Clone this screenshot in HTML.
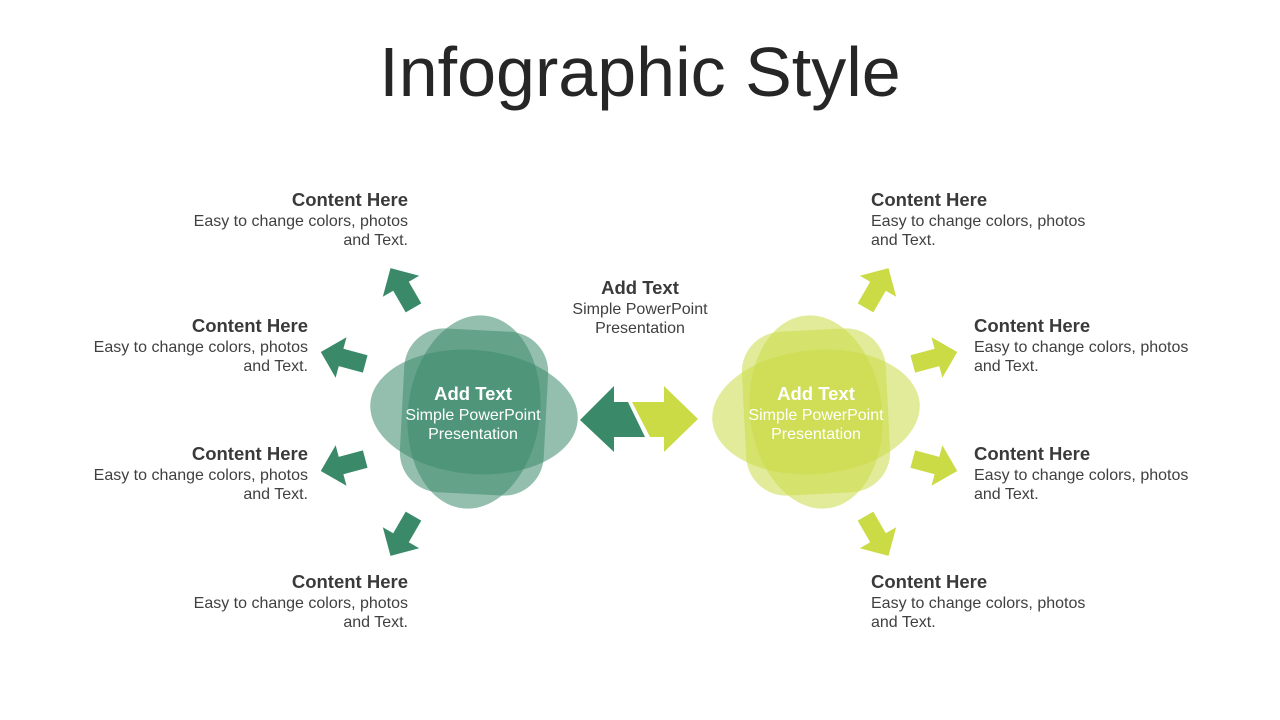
<!DOCTYPE html>
<html><head><meta charset="utf-8"><style>
body{margin:0;width:1280px;height:720px;background:#fff;position:relative;overflow:hidden;font-family:"Liberation Sans",sans-serif;}
.t{position:absolute;color:#404040;font-size:16px;line-height:19px;}
.t b{display:block;font-size:18.5px;line-height:24px;color:#3a3a3a;}
.r{text-align:right}
.c{text-align:center}
</style></head><body>
<div style="position:absolute;top:30px;left:0;width:1280px;text-align:center;font-size:70px;color:#262626;line-height:84px;">Infographic Style</div>
<svg width="1280" height="720" style="position:absolute;left:0;top:0">
<defs>
<polygon id="ar" points="-23,-9 2,-9 2,-21 23,0 2,21 2,9 -23,9"/>
<g id="fl">
<ellipse cx="0" cy="0" rx="104" ry="62" transform="rotate(5)"/>
<ellipse cx="0" cy="0" rx="97" ry="66" transform="rotate(97)"/>
<rect x="-72" y="-82" width="144" height="164" rx="40" ry="40" transform="rotate(3)"/>
</g>
</defs>
<g fill="#3d8a6c" fill-opacity="0.55" transform="translate(474,412)"><use href="#fl"/></g>
<g fill="#cbdb45" fill-opacity="0.55" transform="translate(816,412) scale(-1,1)"><use href="#fl"/></g>
<g fill="#3a8a6a">
<use href="#ar" transform="translate(402,288) rotate(-120)"/>
<use href="#ar" transform="translate(343,358) rotate(195)"/>
<use href="#ar" transform="translate(343,465) rotate(165)"/>
<use href="#ar" transform="translate(402,536) rotate(120)"/>
<polygon points="580,420 614,386 614,402 628,402 645,437 614,437 614,452"/>
</g>
<g fill="#cbdb45">
<use href="#ar" transform="translate(877,288) rotate(-60)"/>
<use href="#ar" transform="translate(935,358) rotate(-15)"/>
<use href="#ar" transform="translate(935,465) rotate(15)"/>
<use href="#ar" transform="translate(877,536) rotate(60)"/>
<polygon points="632,402 664,402 664,386 698,419 664,452 664,437 650,437"/>
</g>
</svg>
<div class="t r" style="left:108px;top:188px;width:300px"><b>Content Here</b>Easy to change colors, photos<br>and Text.</div>
<div class="t r" style="left:8px;top:314px;width:300px"><b>Content Here</b>Easy to change colors, photos<br>and Text.</div>
<div class="t r" style="left:8px;top:442px;width:300px"><b>Content Here</b>Easy to change colors, photos<br>and Text.</div>
<div class="t r" style="left:108px;top:570px;width:300px"><b>Content Here</b>Easy to change colors, photos<br>and Text.</div>
<div class="t" style="left:871px;top:188px;width:300px"><b>Content Here</b>Easy to change colors, photos<br>and Text.</div>
<div class="t" style="left:974px;top:314px;width:300px"><b>Content Here</b>Easy to change colors, photos<br>and Text.</div>
<div class="t" style="left:974px;top:442px;width:300px"><b>Content Here</b>Easy to change colors, photos<br>and Text.</div>
<div class="t" style="left:871px;top:570px;width:300px"><b>Content Here</b>Easy to change colors, photos<br>and Text.</div>
<div class="t c" style="left:540px;top:276px;width:200px"><b>Add Text</b>Simple PowerPoint<br>Presentation</div>
<div class="t c" style="left:373px;top:382px;width:200px;color:#fff"><b style="color:#fff">Add Text</b>Simple PowerPoint<br>Presentation</div>
<div class="t c" style="left:716px;top:382px;width:200px;color:#fff"><b style="color:#fff">Add Text</b>Simple PowerPoint<br>Presentation</div>
</body></html>
